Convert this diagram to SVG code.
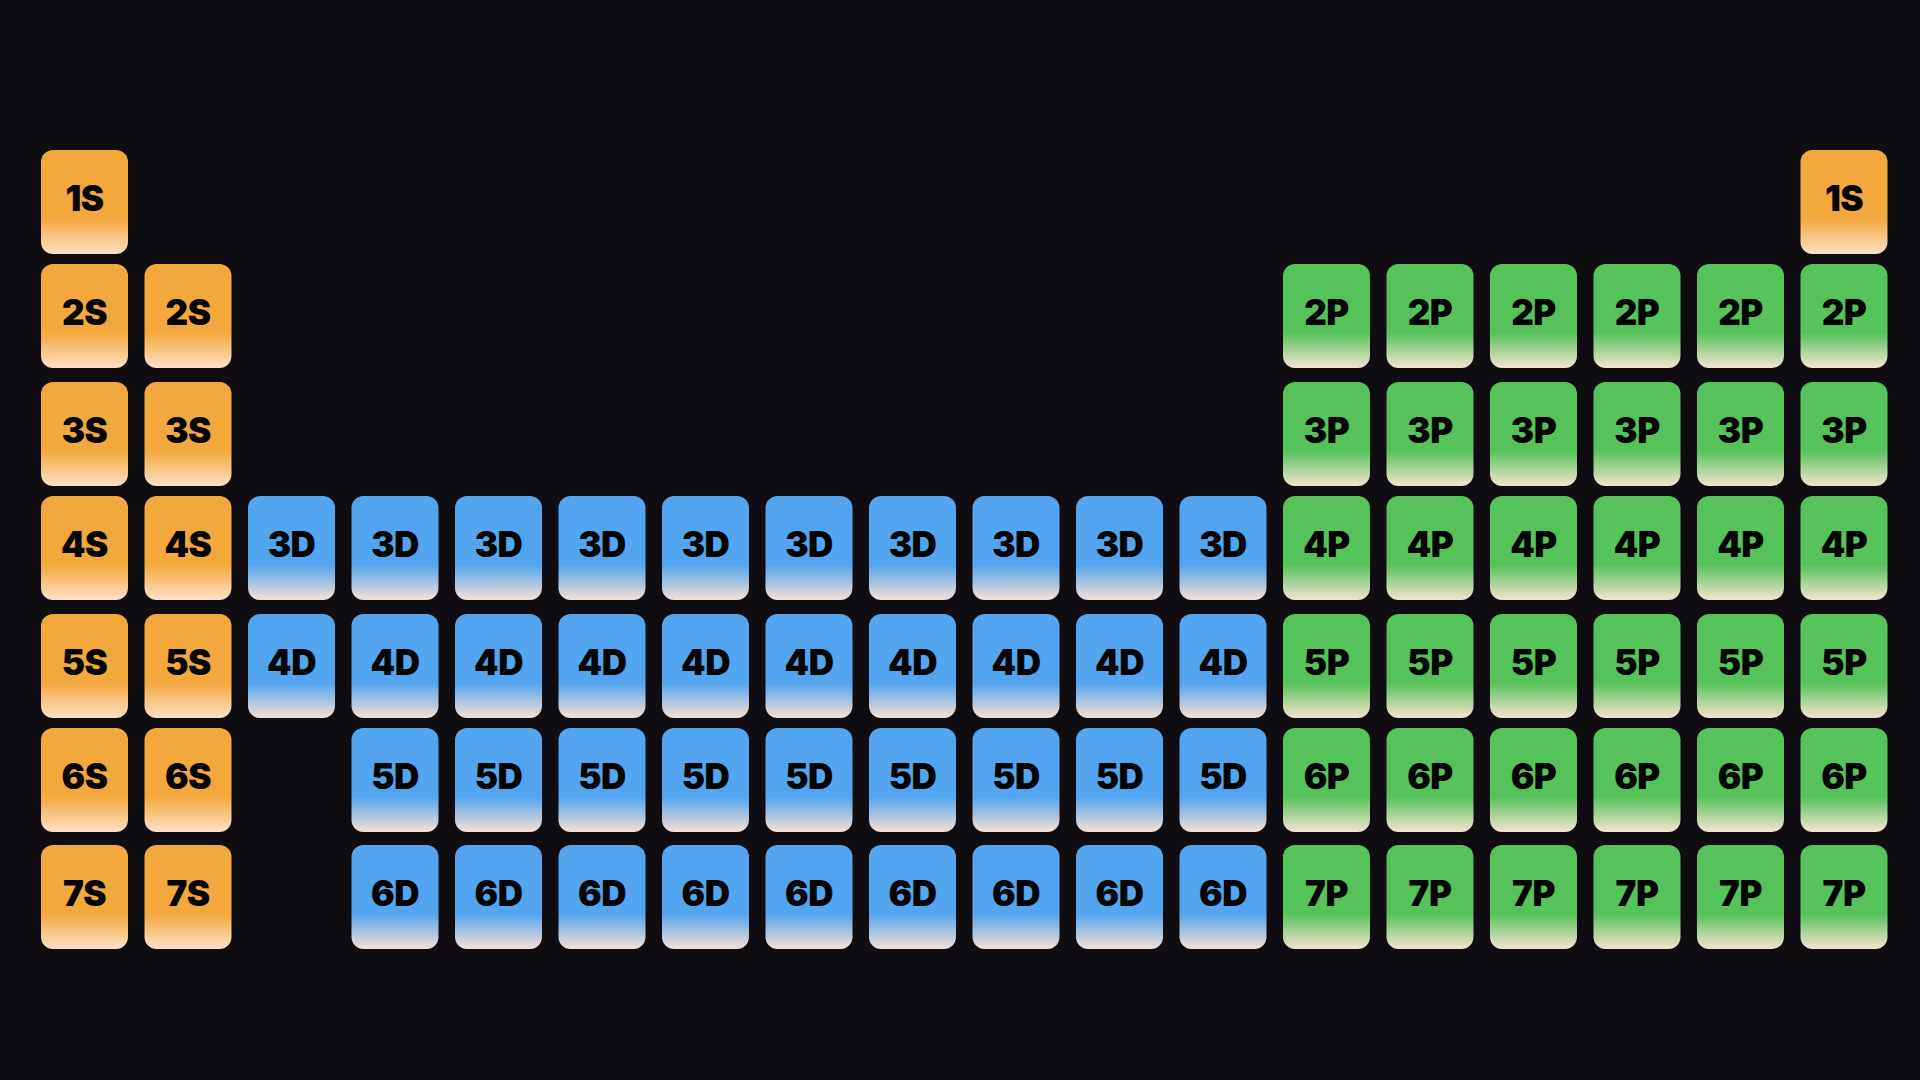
<svg xmlns="http://www.w3.org/2000/svg" width="1920" height="1080" viewBox="0 0 1920 1080">
<defs>
<linearGradient id="gs" x1="0" y1="0" x2="0" y2="1"><stop offset="0" stop-color="#F2A83C"/><stop offset="0.66" stop-color="#F2A83C"/><stop offset="1" stop-color="#FEE0C8"/></linearGradient>
<linearGradient id="gd" x1="0" y1="0" x2="0" y2="1"><stop offset="0" stop-color="#52A5EE"/><stop offset="0.66" stop-color="#52A5EE"/><stop offset="1" stop-color="#F8E0D6"/></linearGradient>
<linearGradient id="gp" x1="0" y1="0" x2="0" y2="1"><stop offset="0" stop-color="#55C35A"/><stop offset="0.66" stop-color="#55C35A"/><stop offset="1" stop-color="#F6E3D0"/></linearGradient>
</defs>
<style>
.s rect{fill:url(#gs);}
.d rect{fill:url(#gd);}
.p rect{fill:url(#gp);}
text{font-family:"Inter","Lato","Liberation Sans",sans-serif;font-weight:900;font-size:35px;letter-spacing:-0.5px;fill:#050505;text-anchor:middle;}
</style>
<rect width="1920" height="1080" fill="#0F0D12"/>
<g id="connectors"/>
<g id="tiles">
<g id="r1c1" class="s" transform="translate(41,150)"><rect width="87" height="104" rx="12"/><text x="43.5" y="60.5">1S</text></g>
<g id="r1c18" class="s" transform="translate(1800.5,150)"><rect width="87" height="104" rx="12"/><text x="43.5" y="60.5">1S</text></g>

<g id="r2c1" class="s" transform="translate(41,264)"><rect width="87" height="104" rx="12"/><text x="43.5" y="60.5">2S</text></g>
<g id="r2c2" class="s" transform="translate(144.5,264)"><rect width="87" height="104" rx="12"/><text x="43.5" y="60.5">2S</text></g>
<g id="r2c13" class="p" transform="translate(1283,264)"><rect width="87" height="104" rx="12"/><text x="43.5" y="60.5">2P</text></g>
<g id="r2c14" class="p" transform="translate(1386.5,264)"><rect width="87" height="104" rx="12"/><text x="43.5" y="60.5">2P</text></g>
<g id="r2c15" class="p" transform="translate(1490,264)"><rect width="87" height="104" rx="12"/><text x="43.5" y="60.5">2P</text></g>
<g id="r2c16" class="p" transform="translate(1593.5,264)"><rect width="87" height="104" rx="12"/><text x="43.5" y="60.5">2P</text></g>
<g id="r2c17" class="p" transform="translate(1697,264)"><rect width="87" height="104" rx="12"/><text x="43.5" y="60.5">2P</text></g>
<g id="r2c18" class="p" transform="translate(1800.5,264)"><rect width="87" height="104" rx="12"/><text x="43.5" y="60.5">2P</text></g>

<g id="r3c1" class="s" transform="translate(41,382)"><rect width="87" height="104" rx="12"/><text x="43.5" y="60.5">3S</text></g>
<g id="r3c2" class="s" transform="translate(144.5,382)"><rect width="87" height="104" rx="12"/><text x="43.5" y="60.5">3S</text></g>
<g id="r3c13" class="p" transform="translate(1283,382)"><rect width="87" height="104" rx="12"/><text x="43.5" y="60.5">3P</text></g>
<g id="r3c14" class="p" transform="translate(1386.5,382)"><rect width="87" height="104" rx="12"/><text x="43.5" y="60.5">3P</text></g>
<g id="r3c15" class="p" transform="translate(1490,382)"><rect width="87" height="104" rx="12"/><text x="43.5" y="60.5">3P</text></g>
<g id="r3c16" class="p" transform="translate(1593.5,382)"><rect width="87" height="104" rx="12"/><text x="43.5" y="60.5">3P</text></g>
<g id="r3c17" class="p" transform="translate(1697,382)"><rect width="87" height="104" rx="12"/><text x="43.5" y="60.5">3P</text></g>
<g id="r3c18" class="p" transform="translate(1800.5,382)"><rect width="87" height="104" rx="12"/><text x="43.5" y="60.5">3P</text></g>

<g id="r4c1" class="s" transform="translate(41,496)"><rect width="87" height="104" rx="12"/><text x="43.5" y="60.5">4S</text></g>
<g id="r4c2" class="s" transform="translate(144.5,496)"><rect width="87" height="104" rx="12"/><text x="43.5" y="60.5">4S</text></g>
<g id="r4c3" class="d" transform="translate(248,496)"><rect width="87" height="104" rx="12"/><text x="43.5" y="60.5">3D</text></g>
<g id="r4c4" class="d" transform="translate(351.5,496)"><rect width="87" height="104" rx="12"/><text x="43.5" y="60.5">3D</text></g>
<g id="r4c5" class="d" transform="translate(455,496)"><rect width="87" height="104" rx="12"/><text x="43.5" y="60.5">3D</text></g>
<g id="r4c6" class="d" transform="translate(558.5,496)"><rect width="87" height="104" rx="12"/><text x="43.5" y="60.5">3D</text></g>
<g id="r4c7" class="d" transform="translate(662,496)"><rect width="87" height="104" rx="12"/><text x="43.5" y="60.5">3D</text></g>
<g id="r4c8" class="d" transform="translate(765.5,496)"><rect width="87" height="104" rx="12"/><text x="43.5" y="60.5">3D</text></g>
<g id="r4c9" class="d" transform="translate(869,496)"><rect width="87" height="104" rx="12"/><text x="43.5" y="60.5">3D</text></g>
<g id="r4c10" class="d" transform="translate(972.5,496)"><rect width="87" height="104" rx="12"/><text x="43.5" y="60.5">3D</text></g>
<g id="r4c11" class="d" transform="translate(1076,496)"><rect width="87" height="104" rx="12"/><text x="43.5" y="60.5">3D</text></g>
<g id="r4c12" class="d" transform="translate(1179.5,496)"><rect width="87" height="104" rx="12"/><text x="43.5" y="60.5">3D</text></g>
<g id="r4c13" class="p" transform="translate(1283,496)"><rect width="87" height="104" rx="12"/><text x="43.5" y="60.5">4P</text></g>
<g id="r4c14" class="p" transform="translate(1386.5,496)"><rect width="87" height="104" rx="12"/><text x="43.5" y="60.5">4P</text></g>
<g id="r4c15" class="p" transform="translate(1490,496)"><rect width="87" height="104" rx="12"/><text x="43.5" y="60.5">4P</text></g>
<g id="r4c16" class="p" transform="translate(1593.5,496)"><rect width="87" height="104" rx="12"/><text x="43.5" y="60.5">4P</text></g>
<g id="r4c17" class="p" transform="translate(1697,496)"><rect width="87" height="104" rx="12"/><text x="43.5" y="60.5">4P</text></g>
<g id="r4c18" class="p" transform="translate(1800.5,496)"><rect width="87" height="104" rx="12"/><text x="43.5" y="60.5">4P</text></g>

<g id="r5c1" class="s" transform="translate(41,614)"><rect width="87" height="104" rx="12"/><text x="43.5" y="60.5">5S</text></g>
<g id="r5c2" class="s" transform="translate(144.5,614)"><rect width="87" height="104" rx="12"/><text x="43.5" y="60.5">5S</text></g>
<g id="r5c3" class="d" transform="translate(248,614)"><rect width="87" height="104" rx="12"/><text x="43.5" y="60.5">4D</text></g>
<g id="r5c4" class="d" transform="translate(351.5,614)"><rect width="87" height="104" rx="12"/><text x="43.5" y="60.5">4D</text></g>
<g id="r5c5" class="d" transform="translate(455,614)"><rect width="87" height="104" rx="12"/><text x="43.5" y="60.5">4D</text></g>
<g id="r5c6" class="d" transform="translate(558.5,614)"><rect width="87" height="104" rx="12"/><text x="43.5" y="60.5">4D</text></g>
<g id="r5c7" class="d" transform="translate(662,614)"><rect width="87" height="104" rx="12"/><text x="43.5" y="60.5">4D</text></g>
<g id="r5c8" class="d" transform="translate(765.5,614)"><rect width="87" height="104" rx="12"/><text x="43.5" y="60.5">4D</text></g>
<g id="r5c9" class="d" transform="translate(869,614)"><rect width="87" height="104" rx="12"/><text x="43.5" y="60.5">4D</text></g>
<g id="r5c10" class="d" transform="translate(972.5,614)"><rect width="87" height="104" rx="12"/><text x="43.5" y="60.5">4D</text></g>
<g id="r5c11" class="d" transform="translate(1076,614)"><rect width="87" height="104" rx="12"/><text x="43.5" y="60.5">4D</text></g>
<g id="r5c12" class="d" transform="translate(1179.5,614)"><rect width="87" height="104" rx="12"/><text x="43.5" y="60.5">4D</text></g>
<g id="r5c13" class="p" transform="translate(1283,614)"><rect width="87" height="104" rx="12"/><text x="43.5" y="60.5">5P</text></g>
<g id="r5c14" class="p" transform="translate(1386.5,614)"><rect width="87" height="104" rx="12"/><text x="43.5" y="60.5">5P</text></g>
<g id="r5c15" class="p" transform="translate(1490,614)"><rect width="87" height="104" rx="12"/><text x="43.5" y="60.5">5P</text></g>
<g id="r5c16" class="p" transform="translate(1593.5,614)"><rect width="87" height="104" rx="12"/><text x="43.5" y="60.5">5P</text></g>
<g id="r5c17" class="p" transform="translate(1697,614)"><rect width="87" height="104" rx="12"/><text x="43.5" y="60.5">5P</text></g>
<g id="r5c18" class="p" transform="translate(1800.5,614)"><rect width="87" height="104" rx="12"/><text x="43.5" y="60.5">5P</text></g>

<g id="r6c1" class="s" transform="translate(41,728)"><rect width="87" height="104" rx="12"/><text x="43.5" y="60.5">6S</text></g>
<g id="r6c2" class="s" transform="translate(144.5,728)"><rect width="87" height="104" rx="12"/><text x="43.5" y="60.5">6S</text></g>
<g id="r6c4" class="d" transform="translate(351.5,728)"><rect width="87" height="104" rx="12"/><text x="43.5" y="60.5">5D</text></g>
<g id="r6c5" class="d" transform="translate(455,728)"><rect width="87" height="104" rx="12"/><text x="43.5" y="60.5">5D</text></g>
<g id="r6c6" class="d" transform="translate(558.5,728)"><rect width="87" height="104" rx="12"/><text x="43.5" y="60.5">5D</text></g>
<g id="r6c7" class="d" transform="translate(662,728)"><rect width="87" height="104" rx="12"/><text x="43.5" y="60.5">5D</text></g>
<g id="r6c8" class="d" transform="translate(765.5,728)"><rect width="87" height="104" rx="12"/><text x="43.5" y="60.5">5D</text></g>
<g id="r6c9" class="d" transform="translate(869,728)"><rect width="87" height="104" rx="12"/><text x="43.5" y="60.5">5D</text></g>
<g id="r6c10" class="d" transform="translate(972.5,728)"><rect width="87" height="104" rx="12"/><text x="43.5" y="60.5">5D</text></g>
<g id="r6c11" class="d" transform="translate(1076,728)"><rect width="87" height="104" rx="12"/><text x="43.5" y="60.5">5D</text></g>
<g id="r6c12" class="d" transform="translate(1179.5,728)"><rect width="87" height="104" rx="12"/><text x="43.5" y="60.5">5D</text></g>
<g id="r6c13" class="p" transform="translate(1283,728)"><rect width="87" height="104" rx="12"/><text x="43.5" y="60.5">6P</text></g>
<g id="r6c14" class="p" transform="translate(1386.5,728)"><rect width="87" height="104" rx="12"/><text x="43.5" y="60.5">6P</text></g>
<g id="r6c15" class="p" transform="translate(1490,728)"><rect width="87" height="104" rx="12"/><text x="43.5" y="60.5">6P</text></g>
<g id="r6c16" class="p" transform="translate(1593.5,728)"><rect width="87" height="104" rx="12"/><text x="43.5" y="60.5">6P</text></g>
<g id="r6c17" class="p" transform="translate(1697,728)"><rect width="87" height="104" rx="12"/><text x="43.5" y="60.5">6P</text></g>
<g id="r6c18" class="p" transform="translate(1800.5,728)"><rect width="87" height="104" rx="12"/><text x="43.5" y="60.5">6P</text></g>

<g id="r7c1" class="s" transform="translate(41,845)"><rect width="87" height="104" rx="12"/><text x="43.5" y="60.5">7S</text></g>
<g id="r7c2" class="s" transform="translate(144.5,845)"><rect width="87" height="104" rx="12"/><text x="43.5" y="60.5">7S</text></g>
<g id="r7c4" class="d" transform="translate(351.5,845)"><rect width="87" height="104" rx="12"/><text x="43.5" y="60.5">6D</text></g>
<g id="r7c5" class="d" transform="translate(455,845)"><rect width="87" height="104" rx="12"/><text x="43.5" y="60.5">6D</text></g>
<g id="r7c6" class="d" transform="translate(558.5,845)"><rect width="87" height="104" rx="12"/><text x="43.5" y="60.5">6D</text></g>
<g id="r7c7" class="d" transform="translate(662,845)"><rect width="87" height="104" rx="12"/><text x="43.5" y="60.5">6D</text></g>
<g id="r7c8" class="d" transform="translate(765.5,845)"><rect width="87" height="104" rx="12"/><text x="43.5" y="60.5">6D</text></g>
<g id="r7c9" class="d" transform="translate(869,845)"><rect width="87" height="104" rx="12"/><text x="43.5" y="60.5">6D</text></g>
<g id="r7c10" class="d" transform="translate(972.5,845)"><rect width="87" height="104" rx="12"/><text x="43.5" y="60.5">6D</text></g>
<g id="r7c11" class="d" transform="translate(1076,845)"><rect width="87" height="104" rx="12"/><text x="43.5" y="60.5">6D</text></g>
<g id="r7c12" class="d" transform="translate(1179.5,845)"><rect width="87" height="104" rx="12"/><text x="43.5" y="60.5">6D</text></g>
<g id="r7c13" class="p" transform="translate(1283,845)"><rect width="87" height="104" rx="12"/><text x="43.5" y="60.5">7P</text></g>
<g id="r7c14" class="p" transform="translate(1386.5,845)"><rect width="87" height="104" rx="12"/><text x="43.5" y="60.5">7P</text></g>
<g id="r7c15" class="p" transform="translate(1490,845)"><rect width="87" height="104" rx="12"/><text x="43.5" y="60.5">7P</text></g>
<g id="r7c16" class="p" transform="translate(1593.5,845)"><rect width="87" height="104" rx="12"/><text x="43.5" y="60.5">7P</text></g>
<g id="r7c17" class="p" transform="translate(1697,845)"><rect width="87" height="104" rx="12"/><text x="43.5" y="60.5">7P</text></g>
<g id="r7c18" class="p" transform="translate(1800.5,845)"><rect width="87" height="104" rx="12"/><text x="43.5" y="60.5">7P</text></g>
</g>
</svg>
